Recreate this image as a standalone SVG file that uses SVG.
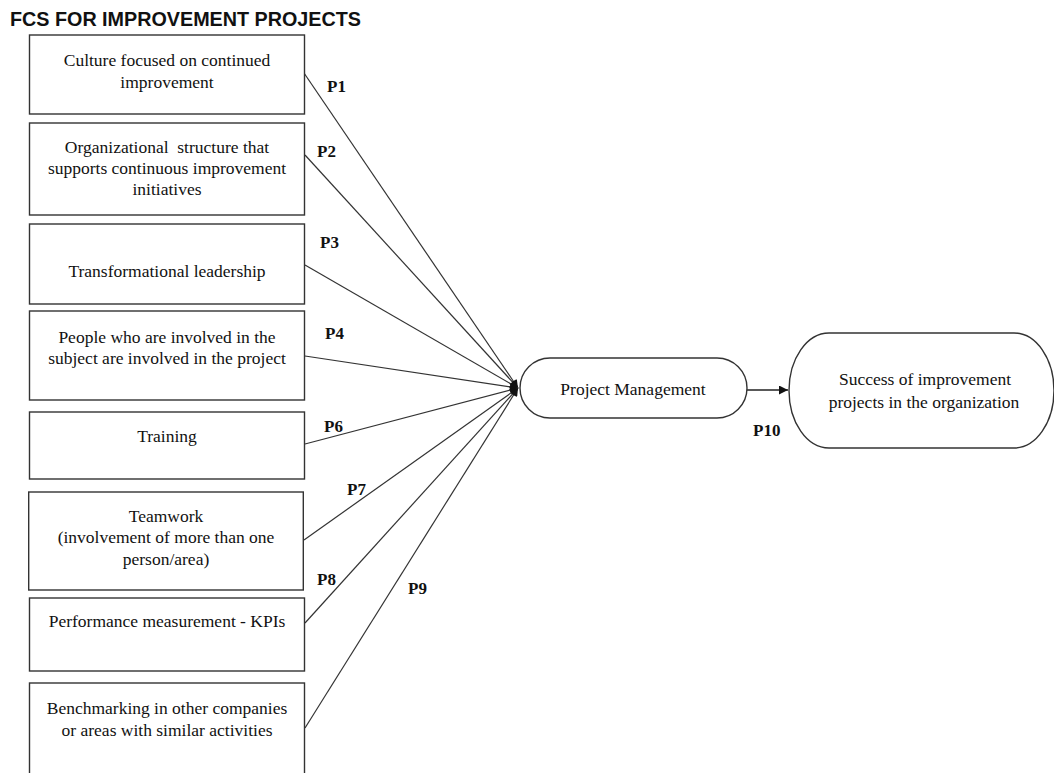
<svg xmlns="http://www.w3.org/2000/svg" width="1054" height="773" viewBox="0 0 1054 773">
<style>
.box{fill:#fff;stroke:#333;stroke-width:1.4}
.t{font-family:"Liberation Serif","Times New Roman",serif;font-size:17.5px;fill:#111;text-anchor:middle}
.lbl{font-family:"Liberation Serif","Times New Roman",serif;font-size:17px;font-weight:bold;fill:#111}
.title{font-family:"Liberation Sans",Arial,sans-serif;font-size:20px;font-weight:bold;fill:#111}
.c{fill:none;stroke:#333;stroke-width:1.2;marker-end:url(#ah)}
</style>
<defs>
<marker id="ah" viewBox="0 0 10 10" refX="10" refY="5" markerWidth="9" markerHeight="8" markerUnits="userSpaceOnUse" orient="auto">
<path d="M0,0 L10,5 L0,10 z" fill="#111"/>
</marker>
<marker id="ah2" viewBox="0 0 10 10" refX="10" refY="5" markerWidth="10" markerHeight="9" markerUnits="userSpaceOnUse" orient="auto">
<path d="M0,0 L10,5 L0,10 z" fill="#111"/>
</marker>
</defs>
<rect width="1054" height="773" fill="#fff"/>
<text class="title" x="10" y="26" textLength="351" lengthAdjust="spacingAndGlyphs">FCS FOR IMPROVEMENT PROJECTS</text>

<g id="connectors">
<path class="c" d="M304,73 L518,388"/>
<path class="c" d="M305,155 L518,388"/>
<path class="c" d="M305,265 L518,388"/>
<path class="c" d="M305,356 L518,388"/>
<path class="c" d="M305,444 L518,388"/>
<path class="c" d="M304,540 L518,388"/>
<path class="c" d="M305,623 L518,388"/>
<path class="c" d="M305,728 L518,388"/>
<path d="M747,390 L788,390" fill="none" stroke="#222" stroke-width="1.4" marker-end="url(#ah2)"/>
<text class="lbl" x="327" y="92">P1</text>
<text class="lbl" x="317" y="157">P2</text>
<text class="lbl" x="320" y="248">P3</text>
<text class="lbl" x="325" y="339">P4</text>
<text class="lbl" x="324" y="432">P6</text>
<text class="lbl" x="347" y="495">P7</text>
<text class="lbl" x="317" y="585">P8</text>
<text class="lbl" x="408" y="594">P9</text>
<text class="lbl" x="753" y="436">P10</text>
</g>

<g id="n1">
<rect class="box" x="29.5" y="35" width="275" height="79"/>
<text class="t" x="167" y="66">Culture focused on continued</text>
<text class="t" x="167" y="88">improvement</text>
</g>
<g id="n2">
<rect class="box" x="29.5" y="123" width="275" height="92"/>
<text class="t" x="167" y="153" xml:space="preserve">Organizational  structure that</text>
<text class="t" x="167" y="174">supports continuous improvement</text>
<text class="t" x="167" y="195">initiatives</text>
</g>
<g id="n3">
<rect class="box" x="29.5" y="224" width="275" height="80"/>
<text class="t" x="167" y="277">Transformational leadership</text>
</g>
<g id="n4">
<rect class="box" x="29.5" y="311" width="275" height="89"/>
<text class="t" x="167" y="342.5">People who are involved in the</text>
<text class="t" x="167" y="363.5">subject are involved in the project</text>
</g>
<g id="n5">
<rect class="box" x="29.5" y="412" width="275" height="67"/>
<text class="t" x="167" y="441.5">Training</text>
</g>
<g id="n6">
<rect class="box" x="28.7" y="492" width="274.6" height="98"/>
<text class="t" x="166" y="521.5">Teamwork</text>
<text class="t" x="166" y="543">(involvement of more than one</text>
<text class="t" x="166" y="564.5">person/area)</text>
</g>
<g id="n7">
<rect class="box" x="29.5" y="598" width="275" height="73"/>
<text class="t" x="167" y="627">Performance measurement - KPIs</text>
</g>
<g id="n8">
<rect class="box" x="29.5" y="683" width="275" height="100"/>
<text class="t" x="167" y="714">Benchmarking in other companies</text>
<text class="t" x="167" y="735.5">or areas with similar activities</text>
</g>
<g id="pm">
<rect class="box" x="520" y="358" width="227" height="60" rx="30" ry="30"/>
<text class="t" x="633" y="395">Project Management</text>
</g>
<g id="success">
<rect class="box" x="789" y="333" width="265" height="115" rx="40" ry="57.5"/>
<text class="t" x="925" y="385">Success of improvement</text>
<text class="t" x="924" y="408">projects in the organization</text>
</g>
</svg>
